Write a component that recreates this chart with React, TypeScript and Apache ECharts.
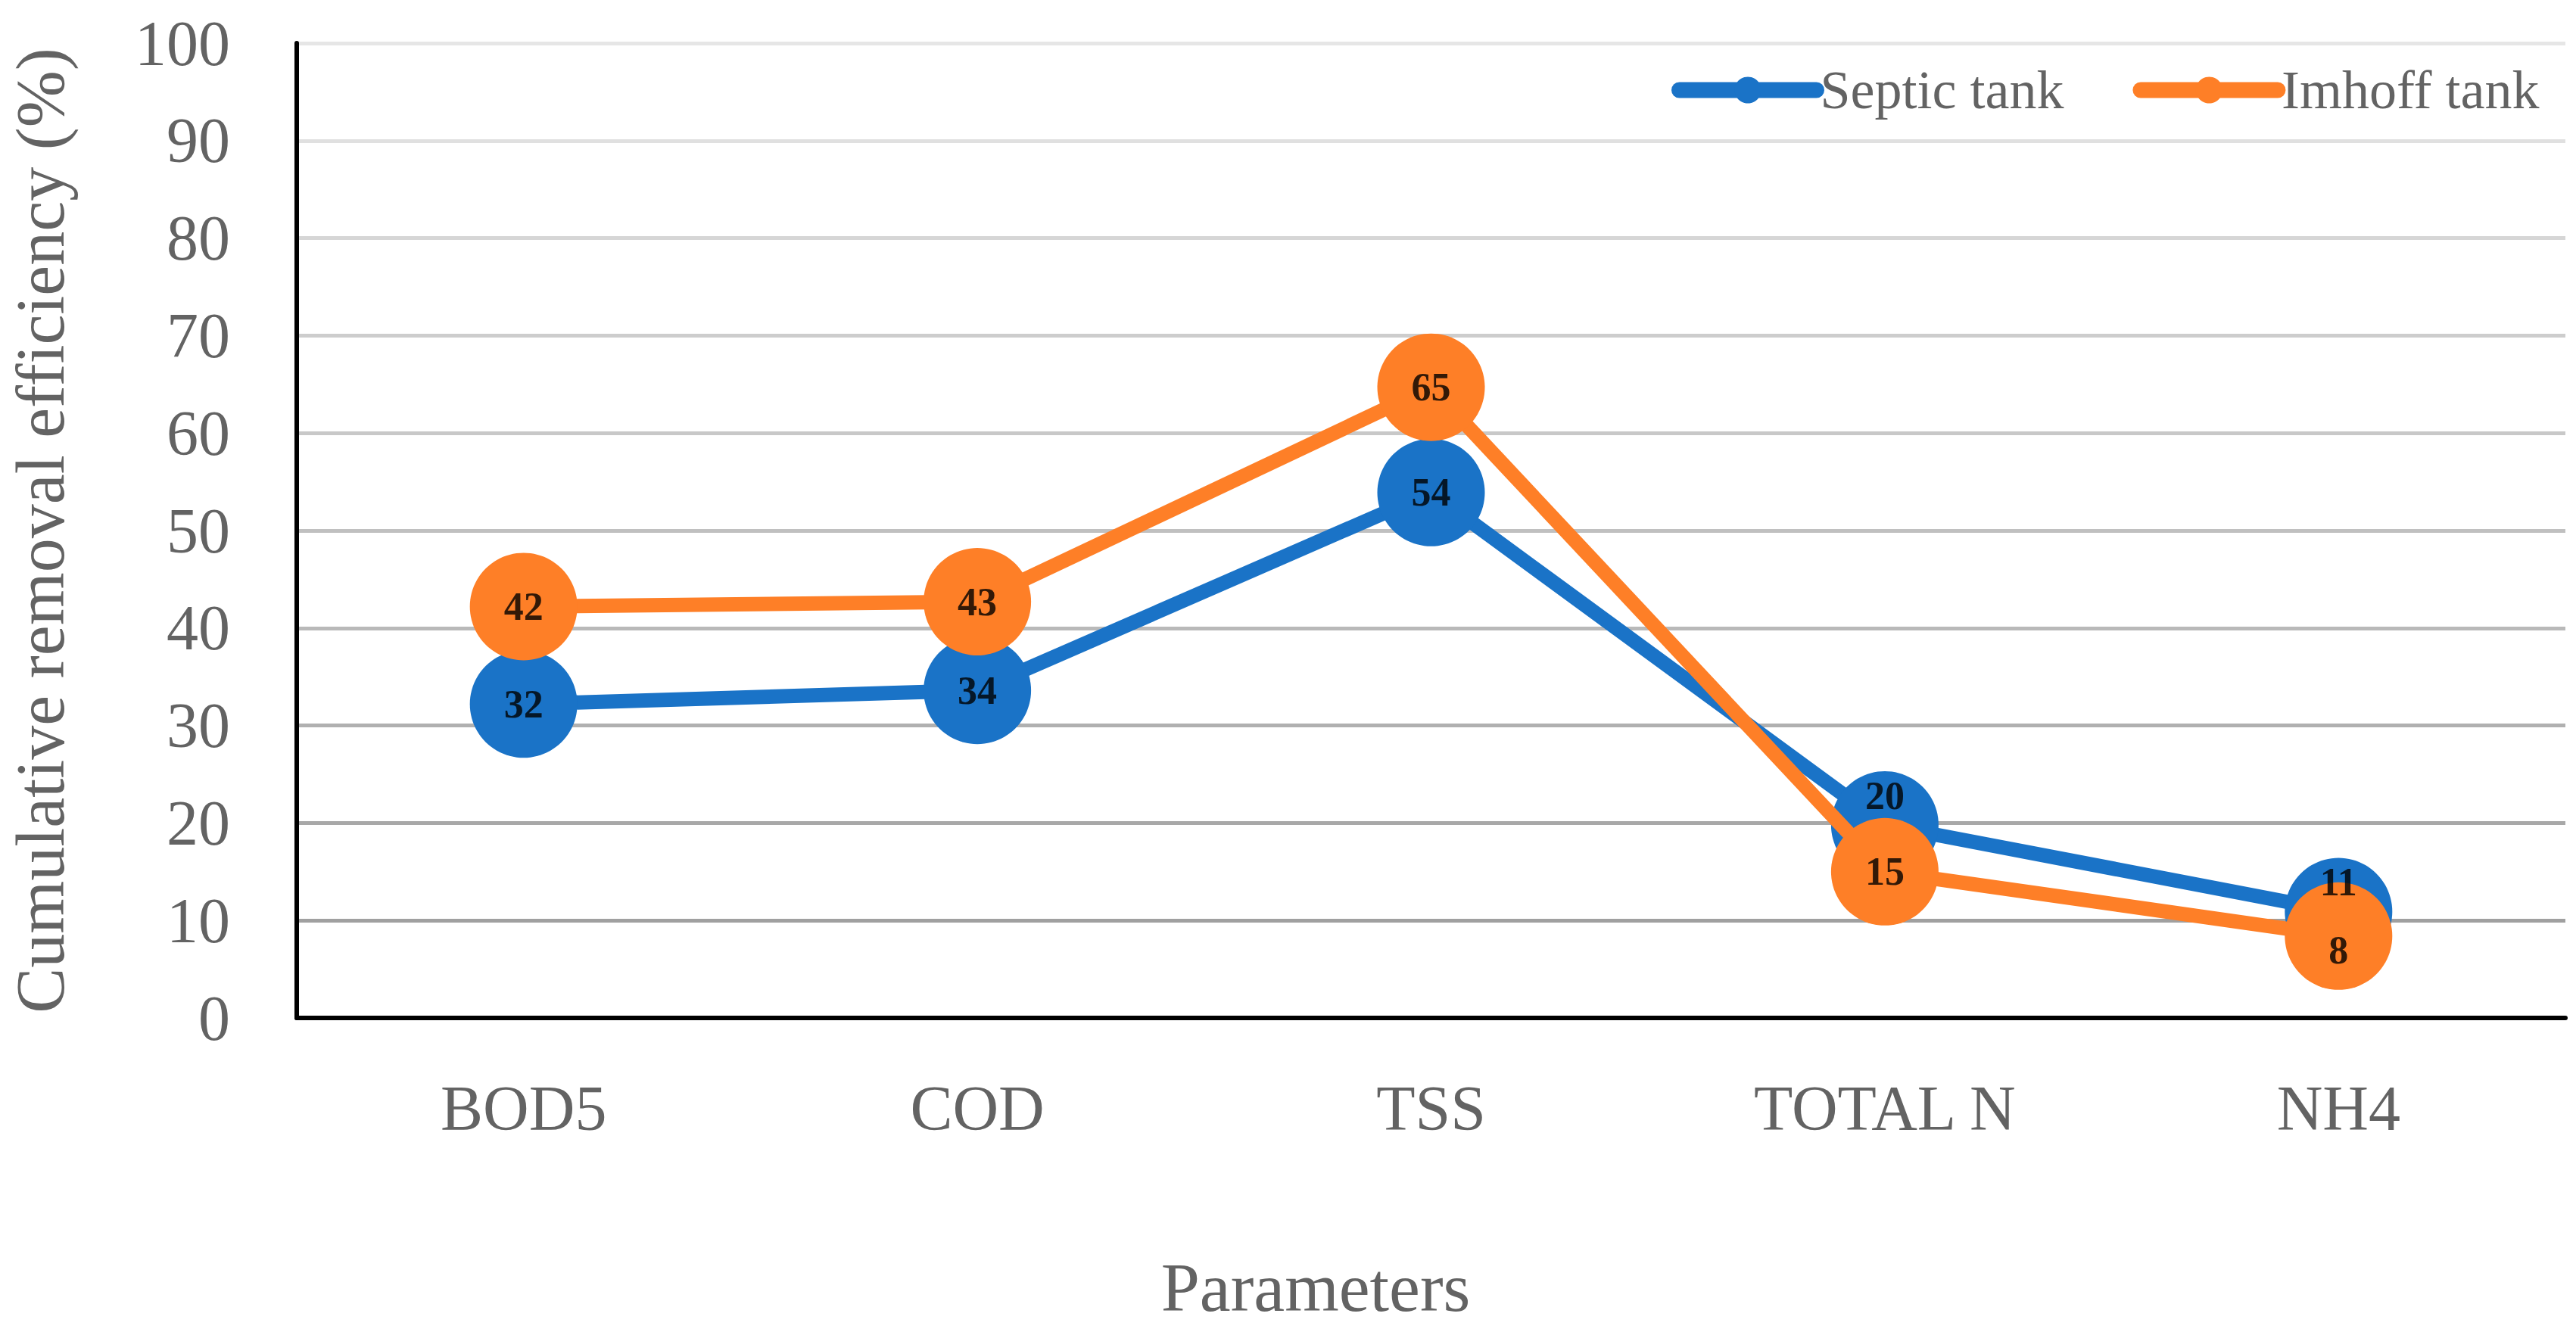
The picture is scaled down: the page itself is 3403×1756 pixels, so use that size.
import React, { useEffect, useRef } from "react";
import * as echarts from "echarts";

const categories = ["BOD5", "COD", "TSS", "TOTAL N", "NH4"];
const septicTank = [32.2, 33.6, 53.9, 19.8, 10.9];
const imhoffTank = [42.2, 42.7, 64.7, 15.0, 8.4];
const seriesNames = ["Septic tank", "Imhoff tank"];
const yAxisTitle = "Cumulative removal efficiency (%)";
const xAxisTitle = "Parameters";

const BLUE = "#1a73c7";
const ORANGE = "#fe7f27";
const TEXT = "#636363";
const FONT = "'Liberation Serif', 'Times New Roman', serif";

// per-point label shifts (px), styling only
const septicLabelShift = [0, 0, 0, -38, -39];
const imhoffLabelShift = [0, 0, 0, 0, 19];

const gridColors = [
  "#9c9c9c", "#a0a0a0", "#a8a8a8", "#b0b0b0", "#b9b9b9", "#c0c0c0",
  "#c8c8c8", "#cdcdcd", "#d6d6d6", "#e0e0e0", "#e6e6e6",
];

export default function App() {
  const ref = useRef<HTMLDivElement>(null);
  useEffect(() => {
    document.body.style.margin = "0";
    if (!ref.current) return;
    const chart = echarts.init(ref.current, undefined, { renderer: "svg" });
    const labelStyle = {
      show: true,
      position: "inside",
      color: "#000",
      fontFamily: FONT,
      fontWeight: "bold",
      fontSize: 52,
      formatter: (p: any) => String(Math.round(p.value)),
    };
    const labelData = (vals: number[], shifts: number[]) =>
      vals.map((v, i) => ({ value: v, label: { offset: [0, shifts[i]] } }));

    chart.setOption({
      animation: false,
      backgroundColor: "#fff",
      grid: { left: 388, right: 14, top: 57, bottom: 411, containLabel: false },
      legend: {
        data: seriesNames,
        left: 2208,
        top: 83,
        padding: 0,
        itemWidth: 181,
        itemHeight: 44,
        itemGap: 91,
        lineStyle: { width: 21, cap: "round" },
        textStyle: { fontFamily: FONT, fontSize: 72, color: TEXT, padding: [0, 0, 0, 0] },
      },
      xAxis: {
        type: "category",
        data: categories,
        boundaryGap: true,
        axisLine: { show: true, lineStyle: { color: "#000", width: 6 } },
        axisTick: { show: false },
        axisLabel: { fontFamily: FONT, fontSize: 84, color: TEXT, margin: 77 },
        splitLine: { show: false },
      },
      yAxis: {
        type: "value",
        min: 0,
        max: 100,
        interval: 10,
        name: yAxisTitle,
        nameLocation: "middle",
        nameRotate: 90,
        nameGap: 294,
        nameTextStyle: { fontFamily: FONT, fontSize: 90, color: TEXT },
        axisLine: { show: true, lineStyle: { color: "#000", width: 6 } },
        axisTick: { show: false },
        axisLabel: { fontFamily: FONT, fontSize: 84, color: TEXT, margin: 88 },
        splitLine: { show: true, lineStyle: { color: gridColors, width: 5 } },
      },
      graphic: [
        {
          type: "text",
          x: 1738,
          y: 1701,
          style: {
            text: xAxisTitle,
            fontFamily: FONT,
            fontSize: 92,
            fill: TEXT,
            align: "center",
            verticalAlign: "middle",
          },
        },
      ],
      series: [
        {
          name: seriesNames[0],
          type: "line",
          data: septicTank,
          symbol: "circle",
          symbolSize: 142,
          z: 2,
          lineStyle: { color: BLUE, width: 19 },
          itemStyle: { color: BLUE },
          label: { show: false },
        },
        {
          name: seriesNames[1],
          type: "line",
          data: imhoffTank,
          symbol: "circle",
          symbolSize: 142,
          z: 3,
          lineStyle: { color: ORANGE, width: 19 },
          itemStyle: { color: ORANGE },
          label: { show: false },
        },
        {
          name: "septic-labels",
          type: "scatter",
          data: labelData(septicTank, septicLabelShift),
          symbolSize: 1,
          z: 5,
          silent: true,
          itemStyle: { color: "rgba(0,0,0,0)" },
          label: labelStyle,
        },
        {
          name: "imhoff-labels",
          type: "scatter",
          data: labelData(imhoffTank, imhoffLabelShift),
          symbolSize: 1,
          z: 5,
          silent: true,
          itemStyle: { color: "rgba(0,0,0,0)" },
          label: labelStyle,
        },
      ],
    });
    return () => chart.dispose();
  }, []);
  return <div ref={ref} style={{ width: 3403, height: 1756 }} />;
}
